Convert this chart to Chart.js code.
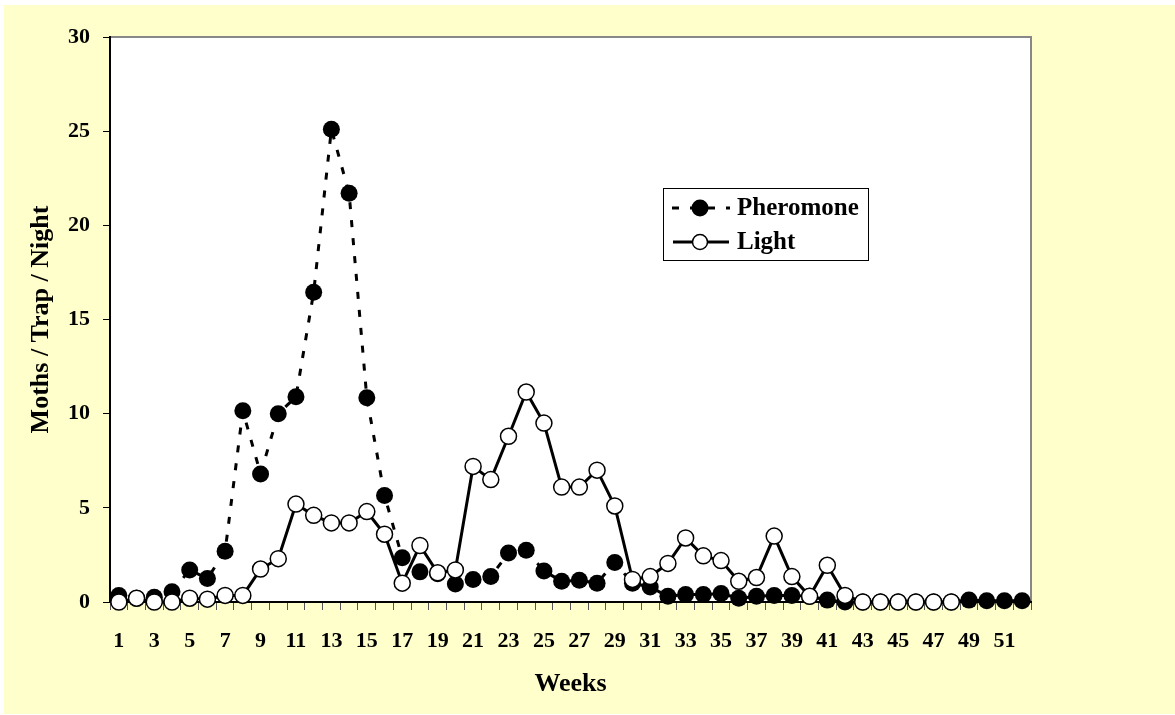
<!DOCTYPE html>
<html>
<head>
<meta charset="utf-8">
<script src="https://cdn.jsdelivr.net/npm/chart.js@4/dist/chart.umd.min.js"></script>
<style>
  body { margin: 0; background: #ffffff; }
  canvas { display: block; }
</style>
</head>
<body>
<canvas id="mothChart" width="1175" height="715"></canvas>
<script>
// Weekly trap catches
const weeks = ['1', '2', '3', '4', '5', '6', '7', '8', '9', '10',
    '11', '12', '13', '14', '15', '16', '17', '18', '19', '20',
    '21', '22', '23', '24', '25', '26', '27', '28', '29', '30',
    '31', '32', '33', '34', '35', '36', '37', '38', '39', '40',
    '41', '42', '43', '44', '45', '46', '47', '48', '49', '50',
    '51', '52'];

const pheromone = [0.35, 0.2, 0.25, 0.55, 1.7, 1.25, 2.7, 10.15, 6.8, 10.0,
    10.9, 16.45, 25.1, 21.7, 10.85, 5.65, 2.35, 1.6, 1.5, 0.95,
    1.2, 1.35, 2.6, 2.75, 1.65, 1.1, 1.15, 1.0, 2.1, 1.0,
    0.8, 0.3, 0.4, 0.4, 0.45, 0.2, 0.3, 0.35, 0.35, 0.3,
    0.1, 0, 0, 0, 0, 0, 0, 0, 0.1, 0.07,
    0.07, 0.07];

const light = [0, 0.2, 0, 0, 0.2, 0.15, 0.35, 0.35, 1.75, 2.3,
    5.2, 4.6, 4.2, 4.2, 4.8, 3.6, 1.0, 3.0, 1.55, 1.7,
    7.2, 6.5, 8.8, 11.15, 9.5, 6.1, 6.1, 7.0, 5.1, 1.2,
    1.35, 2.05, 3.4, 2.45, 2.2, 1.1, 1.3, 3.5, 1.35, 0.3,
    1.95, 0.35, 0, 0, 0, 0, 0, 0, null, null,
    null, null];

const yTicks = [0, 5, 10, 15, 20, 25, 30];

const serif = '"Liberation Serif", "Times New Roman", serif';
const dashPattern = [7, 11];

// Yellow page, white plot area with grey frame
const backdrop = {
    id: 'backdrop',
    beforeDraw(chart) {
        const ctx = chart.ctx;
        const a = chart.chartArea;
        ctx.save();
        ctx.fillStyle = '#ffffff';
        ctx.fillRect(0, 0, chart.width, chart.height);
        ctx.fillStyle = '#ffffcc';
        ctx.fillRect(4, 5, chart.width - 4, chart.height - 6);
        ctx.fillStyle = '#ffffff';
        ctx.fillRect(a.left, a.top, a.right - a.left, a.bottom - a.top);
        ctx.strokeStyle = '#888888';
        ctx.lineWidth = 2;
        ctx.strokeRect(a.left, a.top, a.right - a.left, a.bottom - a.top);
        ctx.restore();
    }
};

// Boxed legend inside the plot
const boxLegend = {
    id: 'boxLegend',
    afterDraw(chart) {
        const ctx = chart.ctx;
        const x = 663, y = 188, w = 205, h = 72;
        ctx.save();
        ctx.fillStyle = '#ffffff';
        ctx.fillRect(x, y, w, h);
        ctx.strokeStyle = '#000000';
        ctx.lineWidth = 1;
        ctx.strokeRect(x + 0.5, y + 0.5, w, h);

        // Pheromone row
        ctx.lineWidth = 3;
        ctx.setLineDash(dashPattern);
        ctx.beginPath();
        ctx.moveTo(672, 208);
        ctx.lineTo(730, 208);
        ctx.stroke();
        ctx.setLineDash([]);
        ctx.fillStyle = '#000000';
        ctx.beginPath();
        ctx.arc(700, 208, 8.5, 0, Math.PI * 2);
        ctx.fill();

        // Light row
        ctx.beginPath();
        ctx.moveTo(673, 242);
        ctx.lineTo(729, 242);
        ctx.stroke();
        ctx.fillStyle = '#ffffff';
        ctx.lineWidth = 1.5;
        ctx.beginPath();
        ctx.arc(700, 242, 7.5, 0, Math.PI * 2);
        ctx.fill();
        ctx.stroke();

        ctx.fillStyle = '#000000';
        ctx.font = 'bold 25px ' + serif;
        ctx.textBaseline = 'middle';
        ctx.textAlign = 'left';
        ctx.fillText('Pheromone', 737, 209);
        ctx.fillText('Light', 737, 243);
        ctx.restore();
    }
};

const ctx = document.getElementById('mothChart').getContext('2d');
new Chart(ctx, {
    type: 'line',
    data: {
        labels: weeks,
        datasets: [{
            label: 'Pheromone',
            data: pheromone,
            order: 2,
            borderColor: '#000000',
            borderWidth: 3,
            borderDash: dashPattern,
            pointRadius: 8.5,
            pointBackgroundColor: '#000000',
            pointBorderColor: '#000000',
            pointBorderWidth: 0,
            tension: 0,
            clip: false
        }, {
            label: 'Light',
            data: light,
            order: 1,
            borderColor: '#000000',
            borderWidth: 3,
            pointRadius: 8,
            pointBackgroundColor: '#ffffff',
            pointBorderColor: '#000000',
            pointBorderWidth: 1.5,
            tension: 0,
            spanGaps: false,
            clip: false
        }]
    },
    options: {
        responsive: false,
        animation: false,
        layout: {
            padding: { left: 0, top: 37, right: 144, bottom: 0 }
        },
        plugins: {
            legend: { display: false },
            tooltip: { enabled: false }
        },
        scales: {
            x: {
                offset: true,
                afterFit: function(scale) { scale.height = 113; },
                grid: {
                    offset: true,
                    drawOnChartArea: false,
                    drawTicks: true,
                    tickLength: 8,
                    color: '#555555'
                },
                border: { display: true, color: '#000000', width: 2 },
                ticks: {
                    autoSkip: false,
                    maxRotation: 0,
                    padding: 18,
                    color: '#000000',
                    font: { family: serif, size: 22, weight: 'bold' },
                    callback: function(value, index) {
                        return index % 2 === 0 ? this.getLabelForValue(value) : '';
                    }
                },
                title: {
                    display: true,
                    text: 'Weeks',
                    color: '#000000',
                    font: { family: serif, size: 26, weight: 'bold' },
                    padding: { top: 0, bottom: 15 }
                }
            },
            y: {
                min: 0,
                max: 30,
                afterFit: function(scale) { scale.width = 110; },
                afterBuildTicks: function(scale) {
                    scale.ticks = yTicks.map(v => ({ value: v }));
                },
                grid: {
                    drawOnChartArea: false,
                    drawTicks: true,
                    tickLength: 7,
                    color: '#000000'
                },
                border: { display: true, color: '#000000', width: 2 },
                ticks: {
                    padding: 13,
                    color: '#000000',
                    font: { family: serif, size: 22, weight: 'bold' }
                },
                title: {
                    display: true,
                    text: 'Moths / Trap / Night',
                    color: '#000000',
                    font: { family: serif, size: 26, weight: 'bold' },
                    padding: { top: 26, bottom: 0 }
                }
            }
        }
    },
    plugins: [backdrop, boxLegend]
});
</script>
</body>
</html>
